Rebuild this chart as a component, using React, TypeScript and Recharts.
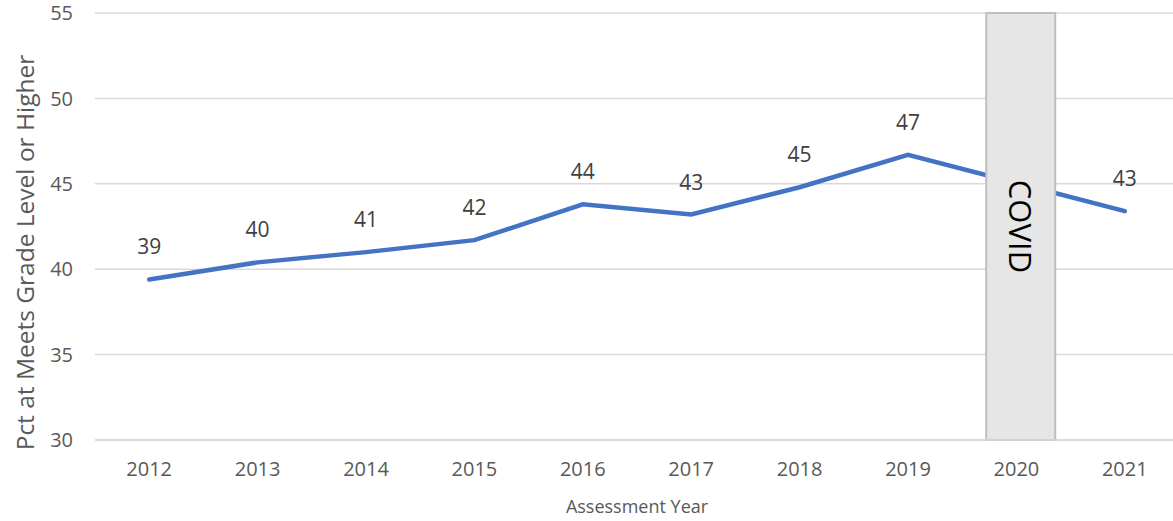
import React from "react";
import {
  ComposedChart,
  Line,
  Bar,
  XAxis,
  YAxis,
  CartesianGrid,
  LabelList,
} from "recharts";

const FONT = '"Open Sans", sans-serif';

const years = ["2012", "2013", "2014", "2015", "2016", "2017", "2018", "2019", "2020", "2021"];
// 2020 had no assessment; the line just connects across it
const pctMeets = [39.4, 40.4, 41.0, 41.7, 43.8, 43.2, 44.8, 46.7, null, 43.4];
const covidYear = "2020";
const yTicks = [30, 35, 40, 45, 50, 55];

const data = years.map((year, i) => ({
  year,
  pct: pctMeets[i],
  covid: year === covidYear ? [30, 55] : null,
}));

function PointLabel(props: any) {
  const { x, y, value } = props;
  if (value == null) return null;
  return (
    <text
      x={x}
      y={y - 25}
      textAnchor="middle"
      fontFamily={FONT}
      fontSize={21}
      fill="#404040"
    >
      {Math.round(value)}
    </text>
  );
}

// the box sits a touch right of the 2020 tick in the original
function CovidBox(props: any) {
  const { x, y, width, height } = props;
  if (!height) return null;
  return (
    <rect
      x={x + 4}
      y={y}
      width={width}
      height={height}
      fill="#e6e6e6"
      stroke="#bfbfbf"
      strokeWidth={2}
    />
  );
}

function CovidLabel(props: any) {
  const { x, y, width, height, value } = props;
  if (value == null) return null;
  const cx = x + width / 2 + 4;
  const cy = y + height / 2;
  return (
    <text
      x={cx}
      y={cy}
      transform={`rotate(90 ${cx} ${cy})`}
      textAnchor="middle"
      dominantBaseline="central"
      fontFamily={FONT}
      fontSize={31}
      fill="#000000"
    >
      COVID
    </text>
  );
}

function YTitle(props: any) {
  const { viewBox } = props;
  const cy = viewBox.y + viewBox.height / 2 + 26;
  return (
    <text
      x={24}
      y={cy}
      transform={`rotate(-90 24 ${cy})`}
      textAnchor="middle"
      dominantBaseline="central"
      fontFamily={FONT}
      fontSize={24.5}
      fill="#595959"
    >
      Pct at Meets Grade Level or Higher
    </text>
  );
}

export default function App() {
  return (
    <div
      style={{
        position: "absolute",
        left: 0,
        top: 0,
        width: 1173,
        height: 521,
        overflow: "hidden",
        background: "#ffffff",
      }}
    >
      <ComposedChart
        width={1180}
        height={521}
        data={data}
        margin={{ top: 13, right: 1, left: 0, bottom: 0 }}
      >
        <CartesianGrid vertical={false} stroke="#d9d9d9" strokeWidth={1.5} />
        <XAxis
          dataKey="year"
          height={81}
          tickLine={false}
          tickSize={0}
          tickMargin={22}
          axisLine={{ stroke: "#d9d9d9", strokeWidth: 1.5 }}
          tick={{ fill: "#595959", fontSize: 20, fontFamily: FONT }}
          label={{
            value: "Assessment Year",
            position: "insideBottom",
            offset: 8,
            fill: "#595959",
            fontSize: 18,
            fontFamily: FONT,
          }}
        />
        <YAxis
          width={95}
          domain={[30, 55]}
          ticks={yTicks}
          interval={0}
          tickLine={false}
          tickSize={0}
          tickMargin={22}
          axisLine={false}
          tick={{ fill: "#595959", fontSize: 20, fontFamily: FONT }}
          label={{ content: YTitle }}
        />
        <Line
          type="linear"
          dataKey="pct"
          stroke="#4472c4"
          strokeWidth={4.5}
          strokeLinecap="round"
          dot={false}
          activeDot={false}
          connectNulls
          isAnimationActive={false}
        >
          <LabelList dataKey="pct" content={PointLabel} />
        </Line>
        <Bar
          dataKey="covid"
          barSize={69}
          fill="#e6e6e6"
          shape={CovidBox}
          zIndex={450}
          isAnimationActive={false}
        >
          <LabelList dataKey="covid" content={CovidLabel} />
        </Bar>
      </ComposedChart>
    </div>
  );
}
